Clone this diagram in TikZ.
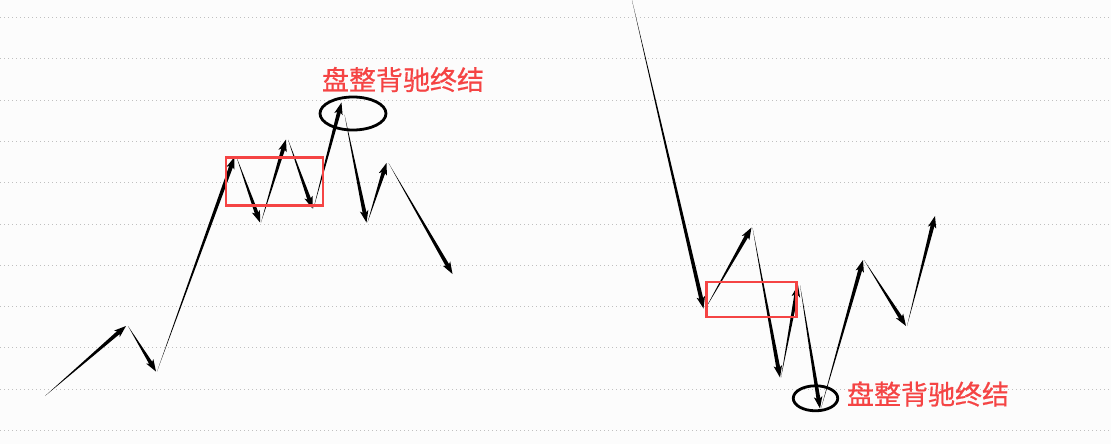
\documentclass[tikz,border=0pt]{standalone}
\usepackage{fontspec}
\newfontfamily\cjk{Noto Sans CJK SC}[FakeBold=0.6]
\usetikzlibrary{calc,shapes.geometric}
\definecolor{bgc}{HTML}{FCFCFC}
\definecolor{gridc}{HTML}{C0C0C0}
\definecolor{redc}{HTML}{F54444}
\tikzset{
  gridline/.style={gridc, line width=0.9pt, dash pattern=on 1pt off 3pt},
  redbox/.style={draw=redc, line width=2.6pt},
  ring/.style={draw=black, line width=2.8pt},
  label/.style={text=redc, font=\cjk\fontsize{27}{29}\selectfont, inner sep=0pt},
}
% tapered arrow from #1 to #2
\newcommand{\tarr}[2]{%
  \coordinate (ts) at #1;
  \coordinate (tt) at #2;
  \coordinate (tc) at ($(tt)!7pt!(ts)$);
  \coordinate (td) at ($(tt)!12pt!(ts)$);
  \coordinate (te) at ($(tt)!9pt!(ts)$);
  \fill (ts) -- ($(tc)!2pt!90:(tt)$) -- ($(tc)!2pt!-90:(tt)$) -- cycle;
  \fill (tt) -- ($(td)!4.3pt!90:(tt)$) -- (te) -- ($(td)!4.3pt!-90:(tt)$) -- cycle;
}
\begin{document}
\begin{tikzpicture}[x=1pt,y=-1pt]
\fill[bgc] (0,0) rectangle (1111,444);
\useasboundingbox (0,0) rectangle (1111,444);
\foreach \k in {0,...,10} {
  \draw[gridline] (0,{17.5+41.3*\k}) -- (1111,{17.5+41.3*\k});
}
% left chart
\coordinate (a0) at (45,396);
\coordinate (a1) at (126,326);
\coordinate (a2) at (156,371.5);
\coordinate (a3) at (234.5,157);
\coordinate (a4) at (260,222.5);
\coordinate (a5) at (286,139.5);
\coordinate (a6) at (312.5,208.5);
\coordinate (a7) at (341.5,102.5);
\coordinate (a8) at (366.5,222.5);
\coordinate (a9) at (386.5,163);
\coordinate (a10) at (452.5,274);
\tarr{(a0)}{(a1)}
\tarr{($(a1)+(2,0)$)}{(a2)}
\tarr{($(a2)+(1,0)$)}{(a3)}
\tarr{($(a3)+(2,0)$)}{(a4)}
\tarr{($(a4)+(1,0)$)}{(a5)}
\tarr{($(a5)+(2,0)$)}{(a6)}
\tarr{($(a6)+(1,0)$)}{(a7)}
\tarr{($(a7)+(3,12)$)}{(a8)}
\tarr{($(a8)+(1,0)$)}{(a9)}
\tarr{($(a9)+(2,0)$)}{(a10)}
\node[redbox, minimum width=97pt, minimum height=48.5pt, inner sep=0pt] (box1) at (274.5,181.5) {};
\node[ring, ellipse, minimum width=66pt, minimum height=33pt, inner sep=0pt] (ring1) at (353,113.5) {};
\node[label] (lab1) at (403,79.5) {盘整背驰终结};
% right chart
\coordinate (b0) at (631.5,-2);
\coordinate (b1) at (703.5,308.5);
\coordinate (b2) at (751.5,227.5);
\coordinate (b3) at (780,377.5);
\coordinate (b4) at (798,285);
\coordinate (b5) at (820,408.5);
\coordinate (b6) at (863,260);
\coordinate (b7) at (906,326);
\coordinate (b8) at (935,216);
\tarr{(b0)}{(b1)}
\tarr{($(b1)+(2,0)$)}{(b2)}
\tarr{($(b2)+(1,0)$)}{(b3)}
\tarr{($(b3)+(1,0)$)}{(b4)}
\tarr{($(b4)+(2,0)$)}{(b5)}
\tarr{($(b5)+(1,0)$)}{(b6)}
\tarr{($(b6)+(1,0)$)}{(b7)}
\tarr{($(b7)+(1,0)$)}{(b8)}
\node[redbox, minimum width=89.5pt, minimum height=35pt, inner sep=0pt] (box2) at (751.5,299.3) {};
\node[ring, ellipse, minimum width=44.5pt, minimum height=25pt, inner sep=0pt] (ring2) at (815.5,398.3) {};
\node[label] (lab2) at (928,394) {盘整背驰终结};
\end{tikzpicture}
\end{document}
